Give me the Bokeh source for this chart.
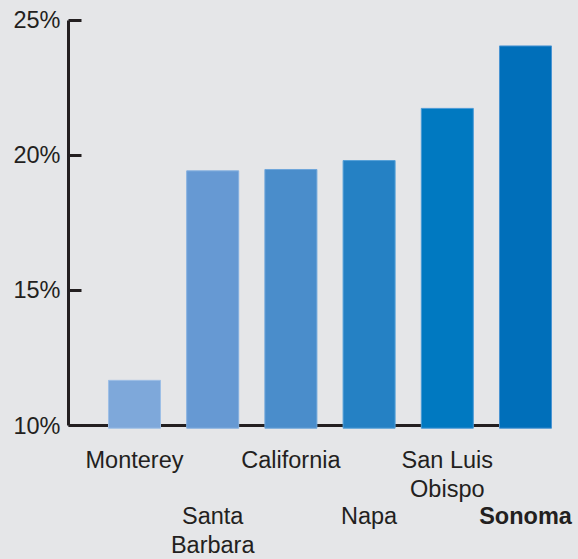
from bokeh.plotting import figure
from bokeh.models import Range1d, FixedTicker, ColumnDataSource
from bokeh.core.properties import value
from bokeh.embed import file_html
from bokeh.resources import INLINE

# ---- data ----
categories = ["Monterey", "Santa\nBarbara", "California", "Napa", "San Luis\nObispo", "Sonoma"]
values = [11.67, 19.42, 19.47, 19.80, 21.73, 24.04]
bar_colors = ["#7EA8DA", "#6699D3", "#4A8DCB", "#2581C4", "#0079C1", "#006FBA"]
edge_colors = ["#9DBFE6", "#86B0E0", "#6FA6DA", "#55A0D8", "#4A9AD6", "#4A94D2"]
label_weights = ["normal", "normal", "normal", "normal", "normal", "bold"]
y_ticks = [10, 15, 20, 25]
y_tick_labels = ["10%", "15%", "20%", "25%"]

BG = "#E5E6E8"
INK = "#231F20"
FONT = "Liberation Sans"
FS = "23.5px"

n = len(categories)
xs = list(range(n))
bar_w = 0.665
baseline = 10

# layout (pixel geometry -> data units)
W, H = 578, 559
LEFT = 68
px_per_unit = (425 - 19.5) / 15.0
top_y = 25 + 19.5 / px_per_unit
bot_y = 25 - (H - 19.5) / px_per_unit
unit_px = 78.2
x_start = -(134 - LEFT) / unit_px
x_end = x_start + (W - LEFT) / unit_px

def ypix(py):
    return 25 - (py - 19.5) / px_per_unit

p = figure(width=W, height=H, output_backend="svg", toolbar_location=None,
           x_range=Range1d(x_start, x_end), y_range=Range1d(bot_y, top_y),
           min_border_left=LEFT, min_border_right=0, min_border_top=0, min_border_bottom=0,
           background_fill_color=BG, border_fill_color=BG, outline_line_color=None)
p.xaxis.visible = False
p.xgrid.visible = False
p.ygrid.visible = False

ya = p.yaxis[0]
ya.bounds = (10, 25)
ya.ticker = FixedTicker(ticks=y_ticks)
ya.major_label_overrides = {t: l for t, l in zip(y_ticks, y_tick_labels)}
ya.minor_tick_line_color = None
ya.major_tick_in = 13
ya.major_tick_out = 0
ya.major_tick_line_width = 3
ya.major_tick_line_color = INK
ya.axis_line_width = 3
ya.axis_line_color = INK
ya.major_label_text_font = FONT
ya.major_label_text_font_size = FS
ya.major_label_text_color = INK
ya.major_label_standoff = 8

# x baseline
p.segment(x0=[x_start], x1=[xs[-1] + bar_w / 2], y0=[baseline], y1=[baseline],
          line_color=INK, line_width=3)

src = ColumnDataSource(dict(x=xs, top=values, color=bar_colors, edge=edge_colors))
p.vbar(x="x", top="top", bottom=baseline - 0.1, width=bar_w, source=src,
       fill_color="color", line_color="edge", line_width=1)

for start, yy in ((0, ypix(446)), (1, ypix(502))):
    idx = list(range(start, n, 2))
    s = ColumnDataSource(dict(x=[xs[i] for i in idx], label=[categories[i] for i in idx],
                              weight=[label_weights[i] for i in idx], y=[yy] * len(idx)))
    p.text(x="x", y="y", text="label", source=s, text_align="center", text_baseline="top",
           text_font=value(FONT), text_font_size=FS, text_color=INK,
           text_font_style="weight", text_line_height=1.13)

html = file_html(p, INLINE)
html = html.replace("<head>", "<head><style>html,body{background:%s;}</style>" % BG, 1)
open("out.html", "w").write(html)
